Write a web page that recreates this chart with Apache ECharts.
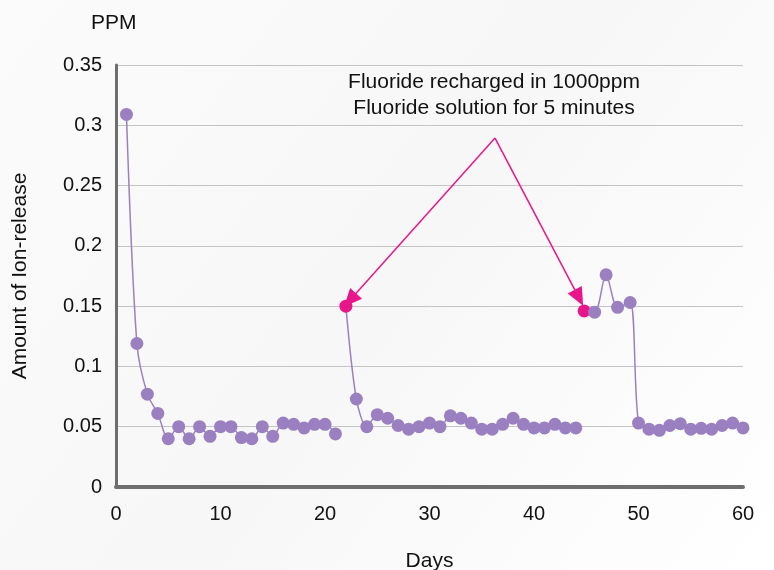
<!DOCTYPE html>
<html><head><meta charset="utf-8">
<script src="https://cdn.jsdelivr.net/npm/echarts@6/dist/echarts.min.js"></script>
<style>html,body{margin:0;padding:0;background:#fff}#c{width:774px;height:570px}</style>
</head><body><div id="c"></div>
<script>
const seg1Days = [1,2,3,4,5,6,7,8,9,10,11,12,13,14,15,16,17,18,19,20,21];
const seg1Vals = [0.309,0.119,0.077,0.061,0.040,0.050,0.040,0.050,0.042,0.050,0.050,0.041,0.040,0.050,0.042,0.053,0.052,0.049,0.052,0.052,0.044];
const seg2Days = [22,23,24,25,26,27,28,29,30,31,32,33,34,35,36,37,38,39,40,41,42,43,44];
const seg2Vals = [0.150,0.073,0.050,0.060,0.057,0.051,0.048,0.050,0.053,0.050,0.059,0.057,0.053,0.048,0.048,0.052,0.057,0.052,0.049,0.049,0.052,0.049,0.049];
const seg3Days = [44.8,45.8,46.9,48,49.2,50,51,52,53,54,55,56,57,58,59,60];
const seg3Vals = [0.146,0.145,0.176,0.149,0.153,0.053,0.048,0.047,0.051,0.0525,0.048,0.0487,0.048,0.051,0.053,0.049];
const xTicks = [0,10,20,30,40,50,60];
const yTicks = [0,0.05,0.1,0.15,0.2,0.25,0.3,0.35];
const rechargeIdx = 0; // first point of segments 2 and 3 is a recharge point
const arrowStart = [36.27, 0.2894];
const arrowEnds = [[22.4, 0.155],[44.3, 0.157]];

const PURPLE = '#9a80c0', PINK = '#e8168a';
const FONT = '"Liberation Sans", Arial, Helvetica, sans-serif';

function seg(days, vals, recharge) {
  return days.map((d,i) => {
    const p = {value:[d, vals[i]]};
    if (recharge && i === rechargeIdx) p.itemStyle = {color: PINK};
    return p;
  });
}
function lineSeries(data) {
  return {type:'line', data, smooth:0.3, symbol:'circle', symbolSize:13,
    lineStyle:{color:PURPLE, width:1.5}, itemStyle:{color:PURPLE, opacity:1},
    z:3, animation:false};
}
const chart = echarts.init(document.getElementById('c'));
chart.setOption({
  backgroundColor: {type:'linear', x:0, y:0, x2:1, y2:1, colorStops:[
    {offset:0, color:'#fbfbfb'},{offset:0.5, color:'#f7f7f7'},{offset:1, color:'#ffffff'}]},
  animation:false,
  textStyle:{fontFamily:FONT},
  grid:{left:116, right:31, top:65, bottom:83, containLabel:false, outerBoundsMode:'none'},
  xAxis:{type:'value', min:xTicks[0], max:xTicks[xTicks.length-1], interval:10,
    axisLine:{show:true, onZero:false, lineStyle:{color:'#6e6e6e', width:4}},
    axisTick:{show:false}, splitLine:{show:false},
    axisLabel:{color:'#111', fontSize:20, margin:17, fontFamily:FONT},
    name:'Days', nameLocation:'middle', nameGap:64,
    nameTextStyle:{color:'#111', fontSize:21, fontFamily:FONT}},
  yAxis:{type:'value', min:yTicks[0], max:yTicks[yTicks.length-1], interval:0.05,
    axisLine:{show:true, lineStyle:{color:'#6e6e6e', width:3}},
    axisTick:{show:false},
    splitLine:{show:true, lineStyle:{color:'#c4c4c4', width:1}},
    axisLabel:{color:'#111', fontSize:20, margin:14, fontFamily:FONT,
      formatter: v => String(+v.toFixed(2))},
    name:'Amount of Ion-release', nameLocation:'middle', nameGap:85, nameRotate:90,
    nameTextStyle:{color:'#111', fontSize:21, fontFamily:FONT}},
  graphic:[
    {type:'text', left:91, top:13, style:{text:'PPM', fill:'#111', font:'21px '+FONT}},
    {type:'text', x:494, y:69, style:{text:'Fluoride recharged in 1000ppm\nFluoride solution for 5 minutes',
      fill:'#111', font:'21px '+FONT, align:'center', lineHeight:26}}
  ],
  series:[
    lineSeries(seg(seg1Days, seg1Vals, false)),
    lineSeries(seg(seg2Days, seg2Vals, true)),
    lineSeries(seg(seg3Days, seg3Vals, true)),
    {type:'line', data:[], silent:true,
      markLine:{silent:true, symbol:['none','triangle'], symbolSize:[16,18], animation:false,
        lineStyle:{color:PINK, width:1.5, type:'solid'}, label:{show:false},
        data: arrowEnds.map(e => [{coord:arrowStart, symbol:'none'},{coord:e}])}}
  ]
});
</script></body></html>
